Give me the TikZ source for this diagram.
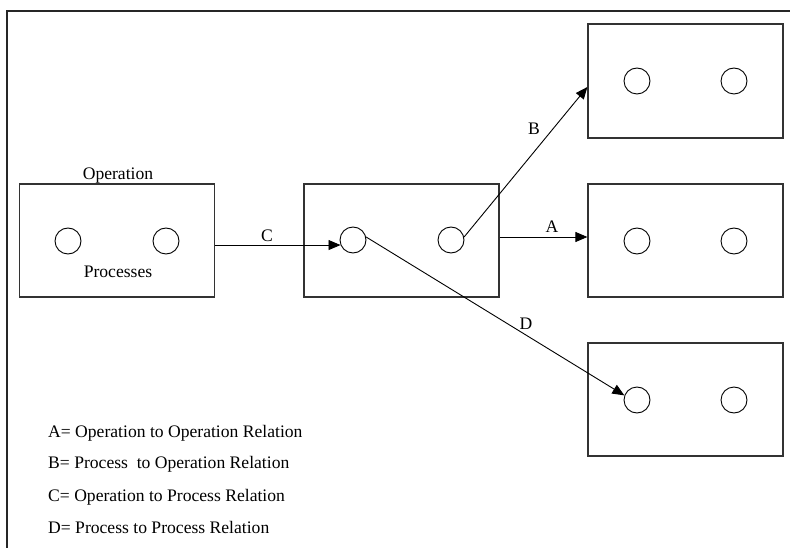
\documentclass[tikz,border=0pt]{standalone}
\usepackage{fontspec}
\setmainfont{Liberation Serif}
\usetikzlibrary{arrows.meta}
\begin{document}
\begin{tikzpicture}[x=1pt,y=-1pt,
  opbox/.style={draw=black!80,line width=1.2pt,minimum width=195pt,minimum height=113pt,inner sep=0pt},
  proc/.style={draw=black,line width=0.9pt,circle,minimum size=26pt,inner sep=0pt},
  rel/.style={draw=black,line width=0.9pt,-{Triangle[length=12pt,width=10pt]}},
  lbl/.style={font=\fontsize{17.6pt}{20pt}\selectfont,inner sep=0pt,anchor=base},
  legend/.style={font=\fontsize{17.6pt}{20pt}\selectfont,inner sep=0pt,anchor=base west}]
\useasboundingbox (0,0) rectangle (790,548);
% outer frame (top and left edges)
\draw[line width=2pt,black!85] (7,548) -- (7,11) -- (790,11);

% operations
\node[opbox] (b1) at (117,240.5) {};
\node[opbox] (b2) at (401.5,240.5) {};
\node[opbox,minimum height=114pt] (b3) at (685.5,81) {};
\node[opbox] (b4) at (685.5,240.5) {};
\node[opbox] (b5) at (685.5,399.5) {};

% processes
\node[proc] (c11) at (68,241) {};
\node[proc] (c12) at (166,241) {};
\node[proc] (c21) at (353,240) {};
\node[proc] (c22) at (451,240) {};
\node[proc] (c31) at (637,81) {};
\node[proc] (c32) at (734,81) {};
\node[proc] (c41) at (637,241) {};
\node[proc] (c42) at (734,241) {};
\node[proc] (c51) at (637,400) {};
\node[proc] (c52) at (734,400) {};

\node[lbl] (op) at (118,180) {Operation};
\node[lbl] (pr) at (118,277) {Processes};

% relations
\draw[rel] (b1.east |- c21.202) -- (c21.202);
\draw[rel] ([yshift=3.5pt]b2.east) -- ([yshift=3.5pt]b4.west);
\draw[rel] (c22.13) -- ([yshift=-6pt]b3.west);
\draw[rel] (c21.13) -- (c51.160);

\node[lbl] (lc) at (267,242) {C};
\node[lbl] (la) at (552,233) {A};
\node[lbl] (lb) at (534,135) {B};
\node[lbl] (ld) at (526,329) {D};

% legend
\node[legend] (ka) at (48,437) {A= Operation to Operation Relation};
\node[legend] (kb) at (48,468) {B= Process\ \ to Operation Relation};
\node[legend] (kc) at (48,501) {C= Operation to Process Relation};
\node[legend] (kd) at (48,533) {D= Process to Process Relation};
\end{tikzpicture}
\end{document}
